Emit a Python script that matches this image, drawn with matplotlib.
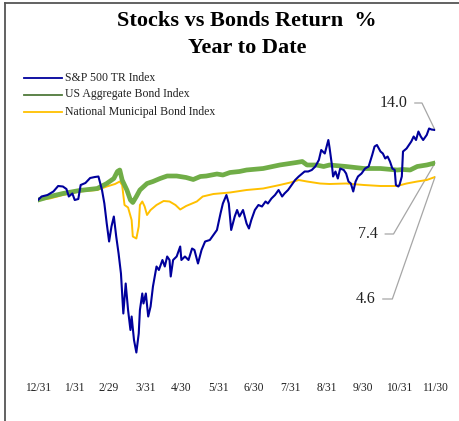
"""
Stocks vs Bonds Return % - Year to Date (2020)
"""

import matplotlib
matplotlib.use('Agg')
import matplotlib.pyplot as plt
from matplotlib.lines import Line2D

# days since 12/31, YTD return in %
spx_days = [0, 3, 8, 13, 17, 21, 24, 26, 29, 31, 34, 36, 40, 44, 48, 51, 54, 56, 58, 60,
            62, 64, 66, 68, 70, 72, 74, 76, 78, 79, 81, 83, 85, 86, 88, 89, 91, 93, 95, 97,
            100, 102, 105, 107, 109, 111, 112, 114, 117, 120, 121, 124, 127, 130, 132, 135,
            138, 141, 145, 148, 151, 154, 156, 159, 161, 163, 166, 168, 170, 173, 176, 178,
            180, 183, 186, 189, 192, 194, 197, 200, 203, 206, 208, 211, 214, 217, 220, 223,
            225, 228, 231, 234, 237, 239, 242, 245, 246, 248, 249, 251, 253, 255, 258, 260,
            262, 264, 266, 268, 270, 273, 276, 279, 282, 284, 286, 289, 291, 293, 295, 297,
            299, 301, 302, 304, 305, 307, 308, 311, 313, 315, 317, 319, 321, 323, 325, 328,
            330, 332, 335]
spx_ret = [0.0, 0.7, 1.0, 1.7, 2.8, 2.7, 2.2, 0.7, 1.3, 0.0, 0.2, 3.0, 3.4, 4.4, 4.6, 4.7, 2.0, -0.7, -4.7, -8.3,
           -5.3, -3.3, -7.3, -10.7, -14.7, -22.7, -16.7, -22.0, -26.0, -23.3, -28.0, -30.5, -26.7, -22.0, -18.7, -20.7, -18.7, -23.3, -21.3, -17.3,
           -13.3, -14.0, -12.0, -13.3, -11.3, -12.0, -15.3, -12.0, -11.3, -9.3, -12.0, -11.3, -12.0, -9.7, -10.0, -12.7,
           -10.0, -8.3, -8.0, -7.0, -6.0, -2.7, -0.7, 1.0, -0.7, -6.0, -3.3, -2.0, -3.3, -2.0, -4.7, -5.7,
           -4.0, -2.0, -1.0, -1.3, -0.3, -0.7, 0.3, 1.0, 2.0, 0.7, 1.3, 2.0, 3.0, 4.0, 4.7, 5.3,
           5.7, 5.7, 6.0, 6.7, 8.0, 10.0, 9.3, 12.0, 10.5, 7.0, 4.7, 5.7, 4.3, 6.3, 6.0, 5.3,
           3.7, 3.3, 1.7, 3.7, 4.7, 5.3, 6.3, 6.7, 9.0, 10.7, 11.0, 9.7, 9.3, 8.3, 8.7, 7.7,
           6.3, 6.0, 3.0, 2.7, 3.0, 4.7, 9.7, 10.3, 11.0, 11.7, 12.7, 12.0, 13.7, 12.7, 12.0, 13.0,
           14.3, 14.1, 14.0]

agg_days = [0, 10, 21, 35, 50, 58, 64, 67, 69, 71, 75, 78, 80, 83, 86, 92, 97, 103, 109, 117,
            125, 131, 137, 142, 151, 156, 162, 170, 176, 190, 204, 218, 223, 227, 235, 241, 246,
            260, 275, 289, 303, 308, 314, 320, 328, 335]
agg_ret = [0.0, 0.7, 1.3, 1.9, 2.3, 3.3, 4.3, 5.7, 6.0, 4.0, 2.0, 0.0, -0.5, 0.7, 2.0, 3.3, 3.7, 4.3, 4.8, 4.8,
           4.5, 4.1, 4.7, 4.8, 5.2, 5.0, 5.5, 5.7, 6.0, 6.3, 7.0, 7.5, 7.7, 7.0, 7.0, 6.7, 7.0,
           6.7, 6.3, 6.3, 6.0, 6.1, 6.0, 6.7, 7.0, 7.4]

muni_days = [0, 10, 21, 35, 50, 58, 65, 69, 71, 73, 76, 79, 80, 83, 85, 86, 88, 90, 92, 95,
             100, 106, 111, 116, 120, 125, 134, 139, 148, 162, 176, 190, 204, 213, 220, 227, 238,
             246, 260, 275, 289, 303, 311, 320, 328, 335]
muni_ret = [0.0, 0.3, 1.0, 1.7, 2.0, 2.7, 3.2, 3.7, 3.0, -1.0, -1.5, -4.0, -7.3, -7.7, -5.3, -1.0, -0.3, -1.3, -3.0, -2.0,
            -1.0, -0.2, -0.3, -1.0, -1.9, -1.2, -0.3, 0.7, 1.2, 1.5, 2.0, 2.3, 3.0, 3.5, 4.0, 3.7, 3.3,
            3.2, 3.3, 3.0, 2.8, 2.8, 3.3, 3.7, 4.0, 4.6]

tick_days = [0, 31, 60, 91, 121, 152, 182, 213, 244, 274, 305, 335]
tick_labels = ['12/31', '1/31', '2/29', '3/31', '4/30', '5/31', '6/30', '7/31',
               '8/31', '9/30', '10/31', '11/30']

series_names = ['S&P 500 TR Index', 'US Aggregate Bond Index', 'National Municipal Bond Index']
end_labels = ['14.0', '7.4', '4.6']

W, H = 460, 421
fig = plt.figure(figsize=(W / 100, H / 100), dpi=100)
fig.patch.set_facecolor('white')

# axes placed in pixel terms: x 38..435, y 120..360
ax = fig.add_axes([38 / W, (H - 360) / H, (435 - 38) / W, 240 / H])
ax.set_xlim(0, 335)
ax.set_ylim(-32, 16)
ax.patch.set_alpha(0)
for s in ax.spines.values():
    s.set_visible(False)

serif = 'Liberation Serif'

ax.plot(muni_days, muni_ret, color='#FFC000', lw=1.4, solid_joinstyle='round', zorder=2)
ax.plot(agg_days, agg_ret, color='#70AD47', lw=3.4, solid_joinstyle='round', zorder=3)
ax.plot(spx_days, spx_ret, color='#00009C', lw=1.5, solid_joinstyle='round', zorder=4)

ax.set_yticks([])
ax.set_xticks(tick_days)
ax.set_xticklabels(tick_labels, fontfamily=serif, fontsize=8.3, color='#222222')
ax.tick_params(axis='x', length=0, pad=16)

# end value call-outs with gray leader lines
ends = [(spx_days[-1], spx_ret[-1]), (agg_days[-1], agg_ret[-1]), (muni_days[-1], muni_ret[-1])]
label_y = [19.4, -6.8, -19.8]
label_right = [312, 287, 285]
elbow = [(318, 324), (293, 300), (291, 299)]
for (ex, ey), lab, ty, tx, (e0, e1) in zip(ends, end_labels, label_y, label_right, elbow):
    ax.plot([e0, e1, ex], [ty, ty, ey], color='#A6A6A6', lw=0.9, clip_on=False, zorder=1)
    ax.text(tx, ty, lab, ha='right', va='center', fontfamily=serif, fontsize=11.5,
            color='#222222')

# title
fig.text(0.537, 1 - 21 / H, 'Stocks vs Bonds Return  %', ha='center', va='center',
         fontfamily=serif, fontsize=16, fontweight='bold')
fig.text(0.538, 1 - 48 / H, 'Year to Date', ha='center', va='center',
         fontfamily=serif, fontsize=16, fontweight='bold')

# legend drawn by hand
leg_colors = ['#00009C', '#4F7A3A', '#FFC000']
leg_y = [77.7, 94.5, 112.3]
for name, c, y in zip(series_names, leg_colors, leg_y):
    fig.add_artist(Line2D([24 / W, 62 / W], [1 - y / H, 1 - y / H], color=c, lw=1.3))
    fig.text(65 / W, 1 - y / H, name, ha='left', va='center', fontfamily=serif,
             fontsize=8.5, color='#222222')

# frame edges at left and top
fig.add_artist(Line2D([4.5 / W, 4.5 / W], [0, 1 - 2.5 / H], color='#555555', lw=1.3))
fig.add_artist(Line2D([4.5 / W, 1], [1 - 2.5 / H, 1 - 2.5 / H], color='#555555', lw=1.3))

fig.savefig('out.png', dpi=100, facecolor='white')
